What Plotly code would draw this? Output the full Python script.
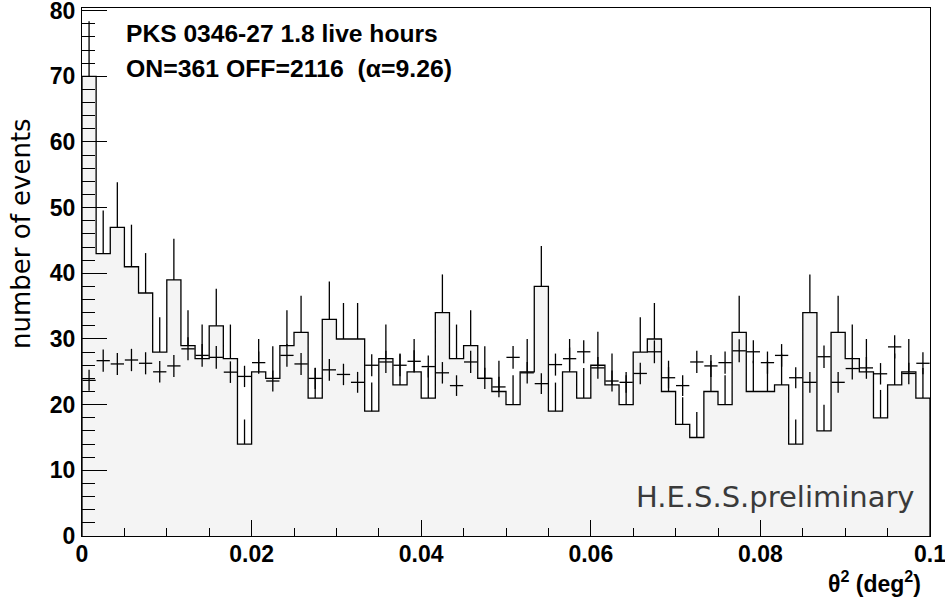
import numpy as np
import plotly.graph_objects as go

# ---------------- data ----------------
theta2_min = 0.0
theta2_max = 0.1
n_bins = 60
alpha = 9.26

on_counts = [70, 43, 47, 41, 37, 28, 39, 29, 27, 32,
             27, 14, 25, 24, 29, 31, 21, 33, 30, 30,
             19, 27, 23, 25, 21, 34, 27, 29, 24, 22,
             20, 25, 38, 19, 25, 21, 26, 23, 20, 28,
             30, 22, 17, 15, 22, 20, 31, 22, 22, 23,
             14, 34, 16, 31, 27, 25, 18, 23, 25, 21]

off_scaled = [23.7, 26.7, 26.2, 26.8, 26.3, 25.0, 25.9, 28.5, 27.5, 27.2,
              24.95, 24.3, 26.4, 23.6, 27.5, 26.2, 24.0, 25.3, 24.6, 23.4,
              26.0, 26.5, 26.0, 26.6, 25.8, 24.85, 22.9, 26.5, 24.0, 22.7,
              27.2, 24.85, 23.2, 26.1, 27.0, 28.05, 25.6, 23.6, 23.4, 24.75,
              28.05, 24.1, 22.9, 26.5, 25.9, 26.4, 28.2, 28.05, 26.4, 27.5,
              24.1, 23.4, 27.3, 23.4, 25.5, 25.6, 24.7, 28.8, 24.75, 26.3]

title_line1 = "PKS 0346-27 1.8 live hours"
title_line2 = "ON=361 OFF=2116\u00a0 (\u03b1=9.26)"
watermark = "H.E.S.S.preliminary"
x_title = "\u03b8<sup>2</sup> (deg<sup>2</sup>)"
y_title = "number of events"

# ---------------- derived ----------------
edges = np.linspace(theta2_min, theta2_max, n_bins + 1)
centers = 0.5 * (edges[:-1] + edges[1:])
bin_w = edges[1] - edges[0]
on = np.array(on_counts, dtype=float)
off = np.array(off_scaled, dtype=float)

step_x = np.concatenate([[edges[0]], edges[:-1], [edges[-1], edges[-1]]])
step_y = np.concatenate([[0.0], on, [on[-1], 0.0]])

LW = 1.3
fig = go.Figure()

# ON histogram (filled step)
fig.add_trace(go.Scatter(
    x=step_x, y=step_y, mode="lines", line=dict(shape="hv", color="black", width=LW),
    fill="tozeroy", fillcolor="#f4f4f4", hoverinfo="skip", showlegend=False))

# ON error bars (upward)
fig.add_trace(go.Scatter(
    x=centers, y=on, mode="markers",
    marker=dict(size=1, color="rgba(0,0,0,0)"),
    error_y=dict(type="data", symmetric=False, array=np.sqrt(on),
                 arrayminus=np.zeros_like(on), width=0, thickness=LW, color="black"),
    showlegend=False))

# OFF (scaled) crosses
fig.add_trace(go.Scatter(
    x=centers, y=off, mode="markers",
    marker=dict(size=1, color="rgba(0,0,0,0)"),
    error_x=dict(type="constant", value=bin_w * 0.47, width=0, thickness=LW, color="black"),
    error_y=dict(type="data", array=np.sqrt(off / alpha), width=0, thickness=LW, color="black"),
    showlegend=False))

SANS_B = "Liberation Sans, Arial, sans-serif"
bold_font = dict(family=SANS_B, size=23, color="black", weight="bold")

fig.update_layout(
    width=945, height=606,
    margin=dict(l=82, r=15, t=8, b=70, autoexpand=False),
    paper_bgcolor="white", plot_bgcolor="white",
    xaxis=dict(range=[theta2_min, theta2_max], tickmode="linear", tick0=0, dtick=0.02,
               ticks="inside", ticklen=16, tickwidth=LW, tickcolor="black",
               minor=dict(dtick=0.005, tick0=0, ticks="inside", ticklen=8, tickwidth=LW, tickcolor="black"),
               showline=True, linecolor="black", linewidth=LW, mirror=True,
               showgrid=False, zeroline=False, tickfont=bold_font, ticklabelstandoff=-3,
               automargin=False, ticklabeloverflow="allow"),
    yaxis=dict(range=[0, 80.4], tickmode="linear", tick0=0, dtick=10,
               ticks="inside", ticklen=25, tickwidth=LW, tickcolor="black",
               minor=dict(dtick=2, tick0=0, ticks="inside", ticklen=12.7, tickwidth=LW, tickcolor="black"),
               showline=True, linecolor="black", linewidth=LW, mirror=True,
               showgrid=False, zeroline=False, tickfont=bold_font, ticklabelstandoff=1,
               automargin=False, ticklabeloverflow="allow"),
    annotations=[
        dict(text=title_line1, xref="paper", yref="paper", x=0.0495, y=0.951,
             xanchor="left", yanchor="middle", showarrow=False,
             font=dict(family=SANS_B, size=24.6, color="black", weight="bold")),
        dict(text=title_line2, xref="paper", yref="paper", x=0.0495, y=0.886,
             xanchor="left", yanchor="middle", showarrow=False,
             font=dict(family=SANS_B, size=24.8, color="black", weight="bold")),
        dict(text=watermark, xref="paper", yref="paper", x=0.985, y=0.074,
             xanchor="right", yanchor="middle", showarrow=False,
             font=dict(family="DejaVu Sans", size=29, color="#3a3a3a")),
        dict(text=y_title, xref="paper", yref="paper", x=-0.0719, y=0.572, textangle=-90,
             xanchor="center", yanchor="middle", showarrow=False,
             font=dict(family="DejaVu Sans", size=26, color="black")),
        dict(text=x_title, xref="paper", yref="paper", x=0.992, y=-0.088,
             xanchor="right", yanchor="middle", showarrow=False,
             font=dict(family=SANS_B, size=23, color="black", weight="bold")),
    ],
)

# remove the default 8px page margin so the figure sits at the window's corner
fig.write_html("out.html", config={"displayModeBar": False},
               post_script="document.body.style.margin='0';document.body.style.overflow='hidden';")
